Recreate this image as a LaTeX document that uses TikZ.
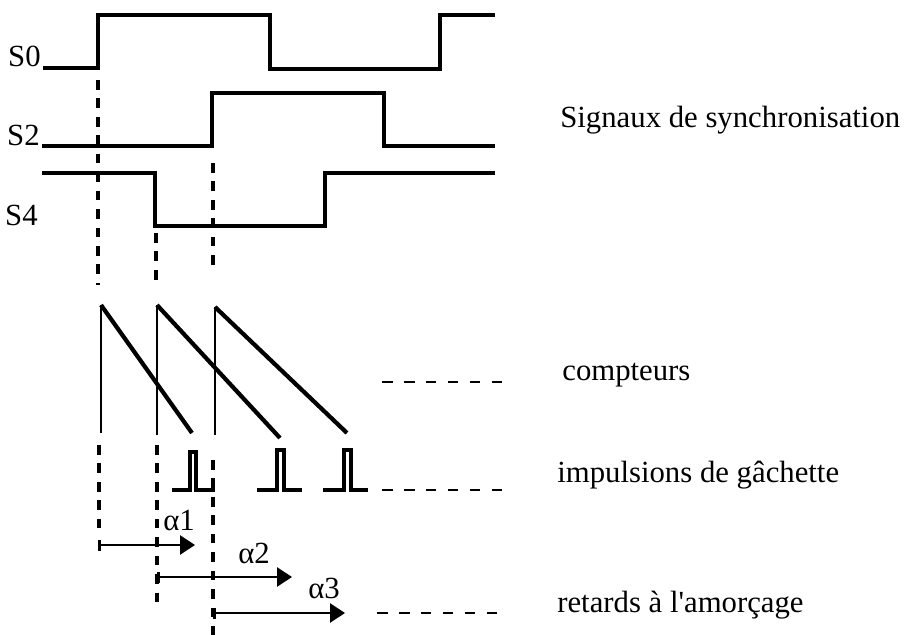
\documentclass[tikz,border=0pt]{standalone}
\usepackage{fontspec}
\setmainfont{Liberation Serif}
\usetikzlibrary{arrows.meta}
\tikzset{
  sig/.style={line width=1.8pt},
  ramp/.style={line width=1.7pt},
  rampdown/.style={line width=2.4pt},
  guide/.style={line width=1.8pt,dash pattern=on 5.5pt off 5pt},
  etc/.style={line width=1.7pt,dash pattern=on 6pt off 6.5pt},
  delay/.style={{Bar[width=2.2mm]}-{Triangle[length=3mm,width=3.8mm]},line width=1.6pt},
  lbl/.style={font=\fontsize{17.5}{20}\selectfont,inner sep=0pt},
  alab/.style={font=\fontsize{17.5}{20}\selectfont,inner sep=0pt},
}

\begin{document}
\begin{tikzpicture}[x=0.02cm,y=-0.02cm]
  \useasboundingbox (0,0) rectangle (914,635);

  % signaux de synchronisation
  \node[lbl,anchor=base east] (s0) at (41,67) {S0};
  \node[lbl,anchor=base east] (s2) at (40,146) {S2};
  \node[lbl,anchor=base east] (s4) at (38,226) {S4};
  \draw[sig] (43,68) -- (98,68) -- (98,15) -- (270,15) -- (270,69)
             -- (440,69) -- (440,15) -- (495,15);
  \draw[sig] (42,146) -- (212,146) -- (212,93) -- (384,93) -- (384,146) -- (495,146);
  \draw[sig] (42,173) -- (155,173) -- (155,226) -- (325,226) -- (325,173) -- (495,173);
  \node[lbl,anchor=base west] (sync) at (560,128) {Signaux de synchronisation};

  \draw[guide] (98,80) -- (98,285);
  \draw[guide] (156,233) -- (156,280);
  \draw[guide] (213,163) -- (213,273);

  % compteurs
  \draw[ramp] (101,433) -- (101,305);
  \draw[rampdown] (101,305) -- (192,433);
  \draw[ramp] (157,435) -- (157,305);
  \draw[rampdown] (157,305) -- (280,438);
  \draw[ramp] (215,435) -- (215,307);
  \draw[rampdown] (215,307) -- (347,433);
  \draw[etc] (382,382) -- (505,382);
  \node[lbl,anchor=base west] (cpt) at (562,380) {compteurs};

  % impulsions
  \draw[sig] (172,490) -- (190,490) -- (190,452) -- (196,452) -- (196,490) -- (215,490);
  \draw[sig] (257,490) -- (277,490) -- (277,450) -- (284,450) -- (284,490) -- (302,490);
  \draw[sig] (323,490) -- (344,490) -- (344,450) -- (351,450) -- (351,490) -- (368,490);
  \draw[etc] (382,490) -- (505,490);
  \node[lbl,anchor=base west] (imp) at (557,482) {impulsions de gâchette};

  \draw[guide] (99,445) -- (99,530);
  \draw[guide] (157,445) -- (157,602);
  \draw[guide] (213,460) -- (213,635);

  % retards
  \draw[delay] (98,545) -- (195,545);
  \node[alab,anchor=base west] (a1) at (163,530) {α1};
  \draw[delay] (157,577) -- (292,577);
  \node[alab,anchor=base west] (a2) at (238,563) {α2};
  \draw[delay] (213,613) -- (345,613);
  \node[alab,anchor=base west] (a3) at (308,598) {α3};
  \draw[etc] (377,613) -- (498,613);
  \node[lbl,anchor=base west] (ret) at (557,612) {retards à l\textquotesingle amorçage};
\end{tikzpicture}
\end{document}
